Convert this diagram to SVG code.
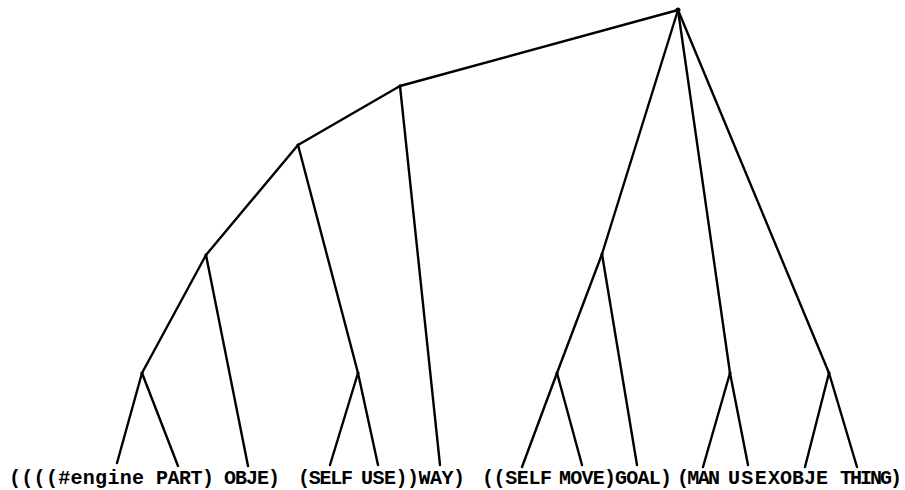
<svg xmlns="http://www.w3.org/2000/svg" width="905" height="490" viewBox="0 0 905 490">
<style>
.e{stroke:#000;stroke-width:2.4;stroke-linecap:round;fill:none}
.j{fill:#000}
.t{font-family:"Liberation Mono","DejaVu Sans Mono",monospace;font-size:20px;fill:#000;font-weight:bold}
</style>
<rect width="905" height="490" fill="#fff"/>
<g id="connectors">
<line class="e" x1="678" y1="10" x2="400" y2="86"/>
<line class="e" x1="400" y1="86" x2="298" y2="145"/>
<line class="e" x1="298" y1="145" x2="206" y2="255"/>
<line class="e" x1="206" y1="255" x2="142" y2="373"/>
<line class="e" x1="142" y1="373" x2="117" y2="463"/>
<line class="e" x1="142" y1="373" x2="178" y2="466"/>
<line class="e" x1="206" y1="255" x2="248" y2="466"/>
<line class="e" x1="298" y1="145" x2="358" y2="373"/>
<line class="e" x1="358" y1="373" x2="330" y2="465"/>
<line class="e" x1="358" y1="373" x2="378" y2="465"/>
<line class="e" x1="400" y1="86" x2="440" y2="465"/>
<line class="e" x1="678" y1="10" x2="602" y2="254"/>
<line class="e" x1="602" y1="254" x2="557" y2="373"/>
<line class="e" x1="557" y1="373" x2="522" y2="467"/>
<line class="e" x1="557" y1="373" x2="582" y2="465"/>
<line class="e" x1="602" y1="254" x2="637" y2="465"/>
<line class="e" x1="678" y1="10" x2="730" y2="373"/>
<line class="e" x1="730" y1="373" x2="703" y2="467"/>
<line class="e" x1="730" y1="373" x2="748" y2="465"/>
<line class="e" x1="678" y1="10" x2="829" y2="373"/>
<line class="e" x1="829" y1="373" x2="805" y2="467"/>
<line class="e" x1="829" y1="373" x2="857" y2="467"/>
</g>
<g id="n-root"><circle class="j" cx="678" cy="10" r="2.5"/></g>
<g id="n-l1"><circle class="j" cx="400" cy="86" r="1.5"/></g>
<g id="n-l2"><circle class="j" cx="298" cy="145" r="1.5"/></g>
<g id="n-l3"><circle class="j" cx="206" cy="255" r="1.5"/></g>
<g id="n-l4"><circle class="j" cx="142" cy="373" r="1.5"/></g>
<g id="n-selfuse"><circle class="j" cx="358" cy="373" r="1.5"/></g>
<g id="n-r1"><circle class="j" cx="602" cy="254" r="1.5"/></g>
<g id="n-selfmove"><circle class="j" cx="557" cy="373" r="1.5"/></g>
<g id="n-manuse"><circle class="j" cx="730" cy="373" r="1.5"/></g>
<g id="n-objething"><circle class="j" cx="829" cy="373" r="1.5"/></g>
<g id="leaves">
<text class="t" y="484" lengthAdjust="spacingAndGlyphs"><tspan x="9" textLength="135">((((#engine</tspan><tspan x="156" textLength="58">PART)</tspan><tspan x="224" textLength="56">OBJE)</tspan><tspan x="298" textLength="55">(SELF</tspan><tspan x="361" textLength="104">USE))WAY)</tspan><tspan x="482" textLength="70">((SELF</tspan><tspan x="559" textLength="113">MOVE)GOAL)</tspan><tspan x="677" textLength="43">(MAN</tspan><tspan x="728" textLength="52">USEX</tspan><tspan x="780" textLength="48">OBJE</tspan><tspan x="840" textLength="62">THING)</tspan></text>
</g>
</svg>
